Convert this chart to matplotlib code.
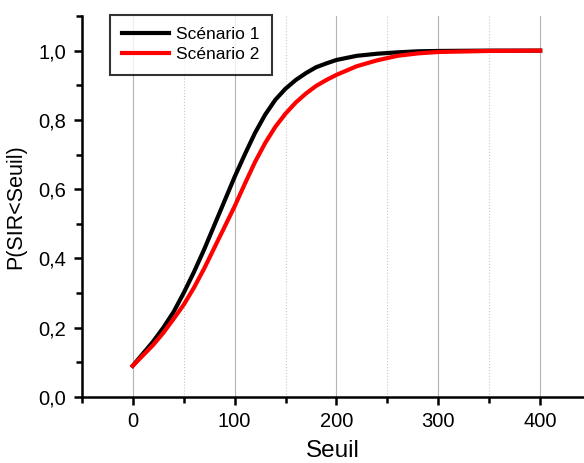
import matplotlib
matplotlib.use("Agg")
import matplotlib.pyplot as plt
from matplotlib.ticker import MultipleLocator, FuncFormatter

plt.rcParams['font.family'] = ['Liberation Sans', 'DejaVu Sans']

# Values
seuil = [0, 10, 20, 30, 40, 50, 60, 70, 80, 90, 100, 110, 120, 130, 140,
         150, 160, 170, 180, 190, 200, 220, 240, 260, 280, 300, 350, 400]
scen1 = [0.09, 0.125, 0.16, 0.20, 0.245, 0.30, 0.36, 0.425, 0.495, 0.565,
         0.635, 0.70, 0.762, 0.815, 0.858, 0.89, 0.915, 0.935, 0.952, 0.963,
         0.973, 0.985, 0.991, 0.995, 0.998, 0.999, 1.0, 1.0]
scen2 = [0.09, 0.12, 0.15, 0.185, 0.225, 0.266, 0.315, 0.37, 0.43, 0.49,
         0.55, 0.615, 0.678, 0.733, 0.78, 0.818, 0.85, 0.876, 0.898, 0.915,
         0.93, 0.955, 0.972, 0.985, 0.992, 0.996, 0.999, 1.0]

fig = plt.figure(figsize=(5.84, 4.63), dpi=100)
ax = fig.add_axes([0.140, 0.1425, 0.86, 0.823])

ax.plot(seuil, scen1, color='black', lw=3, label='Scénario 1')
ax.plot(seuil, scen2, color='#ff0000', lw=3, label='Scénario 2')

ax.set_xlim(-50, 443)
ax.set_ylim(0, 1.1)
ax.xaxis.set_major_locator(MultipleLocator(100))
ax.xaxis.set_minor_locator(MultipleLocator(50))
ax.yaxis.set_major_locator(MultipleLocator(0.2))
ax.yaxis.set_minor_locator(MultipleLocator(0.1))
ax.yaxis.set_major_formatter(FuncFormatter(lambda v, p: f"{v:.1f}".replace('.', ',')))

ax.grid(axis='x', which='major', color='#b4b4b4', lw=0.8, ls='-')
ax.grid(axis='x', which='minor', color='#c8c8c8', lw=0.8, ls=':')
ax.set_axisbelow(True)

for s in ['top', 'right']:
    ax.spines[s].set_visible(False)
for s in ['left', 'bottom']:
    ax.spines[s].set_linewidth(1.8)

ax.tick_params(which='major', direction='out', length=6, width=1.8, labelsize=14.5, pad=5)
ax.tick_params(which='minor', direction='out', length=4, width=1.8)

ax.set_xlabel('Seuil', fontsize=17.5, labelpad=6)
ax.set_ylabel('P(SIR<Seuil)', fontsize=15.5, labelpad=9)

leg = ax.legend(loc='upper left', bbox_to_anchor=(0.056, 1.003), fontsize=12.5,
                frameon=True, fancybox=False, handlelength=2.7, borderaxespad=0,
                borderpad=0.7, labelspacing=0.3, handletextpad=0.4)
leg.get_frame().set_edgecolor('black')
leg.get_frame().set_linewidth(1.5)

fig.savefig('out.png', dpi=100)
